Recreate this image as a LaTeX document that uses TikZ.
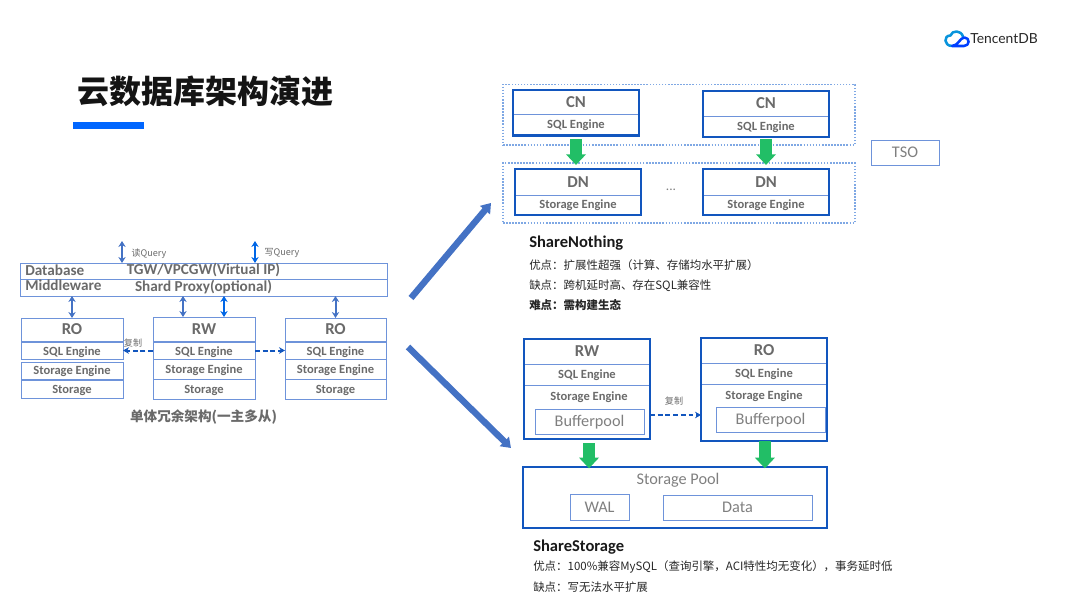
\documentclass[tikz,border=0pt]{standalone}
\usepackage{fontspec}
\setmainfont{Carlito}
\newfontfamily\cjk{Noto Sans CJK SC}
\newfontfamily\logofont{Lato}
\usetikzlibrary{arrows.meta}
\definecolor{thinb}{HTML}{6E93DA}
\definecolor{dotb}{HTML}{7FA8E4}
\definecolor{thickb}{HTML}{1256BE}
\definecolor{greytx}{HTML}{6A6A6A}
\definecolor{lighttx}{HTML}{7F7F7F}
\definecolor{bigarrow}{HTML}{4472C4}
\definecolor{greenarrow}{HTML}{22BE66}
\definecolor{brightblue}{HTML}{0066E6}
\definecolor{barblue}{HTML}{0066FF}
\newcommand{\pxbox}[7]{\node[#6,minimum width={(#4-#2)*0.75pt},minimum height={(#5-#3)*0.75pt}] (#1) at ({(#2+#4)/2},{(#3+#5)/2}) {#7};}
\tikzset{
  cell/.style={draw=thinb,line width=0.7pt,inner sep=0pt,outer sep=0pt,text=greytx,text height=6pt,text depth=0pt,font=\fontsize{9.4pt}{11pt}\selectfont\bfseries},
  lowcell/.style={cell,text height=8pt},
  headcell/.style={cell,text height=8pt,font=\fontsize{12.5pt}{14pt}\selectfont\bfseries},
  lightcell/.style={cell,text=lighttx,text height=7.8pt,font=\fontsize{12.2pt}{14pt}\selectfont},
  heavy/.style={draw=thickb,line width=1.9pt,inner sep=0pt,outer sep=0pt,text=lighttx,font=\fontsize{12.2pt}{14pt}\selectfont},
  dotbox/.style={draw=dotb,line width=0.8pt,dash pattern=on 1.2pt off 1.1pt,inner sep=0pt,outer sep=0pt},
  bandtxt/.style={inner sep=0pt,text=greytx,font=\fontsize{11.4pt}{13pt}\selectfont\bfseries},
  smalltxt/.style={inner sep=0pt,text=greytx,font=\cjk\fontsize{6.8pt}{8pt}\selectfont},
  bodytxt/.style={anchor=west,inner sep=0pt,text=black!85,font=\cjk\fontsize{8.6pt}{10pt}\selectfont},
  boldtxt/.style={bodytxt,font=\cjk\fontsize{8.6pt}{10pt}\selectfont\bfseries},
  headtxt/.style={anchor=west,inner sep=0pt,text=black!90,font=\fontsize{12.4pt}{14pt}\selectfont\bfseries},
  link/.style={draw=bigarrow,line width=1.5pt,{Stealth[length=4.5pt,width=5.5pt]}-{Stealth[length=4.5pt,width=5.5pt]}},
  linkb/.style={draw=brightblue,line width=1.6pt,{Stealth[length=4.5pt,width=5.5pt]}-{Stealth[length=4.5pt,width=5.5pt]}},
  repl/.style={draw=thickb,line width=1.5pt,dash pattern=on 3.6pt off 2.2pt,-{Stealth[length=4.5pt,width=5pt]}},
  greenflow/.style={draw=greenarrow,line width=8.5pt,-{Triangle[length=8pt,width=14.5pt]}},
  bigflow/.style={draw=bigarrow,line width=4.8pt,-{Triangle[length=7pt,width=9.5pt]}}
}
\begin{document}
\begin{tikzpicture}[x=0.75pt,y=-0.75pt]
\useasboundingbox (0,0) rectangle (1080,609);
% title
\node[inner sep=0pt,text=black!92,font=\cjk\fontsize{24pt}{28pt}\selectfont\bfseries] (title) at (205,91) {云数据库架构演进};
\fill[barblue] (73,122) rectangle (144,129);
% logo
\begin{scope}[line width=1.9pt,line cap=round,line join=round]
\draw[draw=cyan!80!blue] (952,46) .. controls (944,46) and (943,35.5) .. (950.5,35.5) .. controls (952,30) and (961,30) .. (963,36.5);
\draw[draw=blue!75!cyan] (952,46) .. controls (958,46) and (960,37.5) .. (964.5,37.5) .. controls (970,37.5) and (970,46) .. (964,46) -- (952,46);
\end{scope}
\node[anchor=west,inner sep=0pt,text=black!85,font=\logofont\fontsize{10.4pt}{12pt}\selectfont] (logotext) at (970,39) {TencentDB};
% left architecture
\pxbox{band1}{20}{263}{387}{279.5}{cell}{}
\pxbox{band2}{20}{279.5}{387}{296}{cell}{}
\node[bandtxt,anchor=west] (dbl) at (25,270) {Database};
\node[bandtxt] (tgw) at (203.5,270.5) {TGW/VPCGW(Virtual IP)};
\node[bandtxt,anchor=west] (mwl) at (25,285.5) {Middleware};
\node[bandtxt] (proxy) at (203.5,287.5) {Shard Proxy(optional)};
\pxbox{ro1h}{21}{318}{123}{341}{headcell}{RO}
\pxbox{ro1q}{21}{342}{123}{359}{lowcell}{SQL Engine}
\pxbox{ro1e}{21}{362}{123}{379}{cell}{Storage Engine}
\pxbox{ro1s}{21}{380}{123}{398}{cell}{Storage}
\pxbox{rwh}{153}{317}{255}{341}{headcell}{RW}
\pxbox{rwq}{153}{342}{255}{359}{lowcell}{SQL Engine}
\pxbox{rwe}{153}{359}{255}{379}{cell}{Storage Engine}
\pxbox{rws}{153}{379}{255}{399}{cell}{Storage}
\pxbox{ro2h}{285}{318}{386}{341}{headcell}{RO}
\pxbox{ro2q}{285}{342}{386}{359}{lowcell}{SQL Engine}
\pxbox{ro2e}{285}{359}{386}{379}{cell}{Storage Engine}
\pxbox{ro2s}{285}{379}{386}{399}{cell}{Storage}
\coordinate (readtop) at (122,241);
\coordinate (writetop) at (255,241);
\coordinate (rwl) at (183,317);
\coordinate (rwr) at (224,317);
\draw[link] (readtop) -- (readtop |- band1.north);
\draw[linkb] (writetop) -- (writetop |- band1.north);
\draw[link] (ro1h.north) -- (ro1h.north |- band2.south);
\draw[link] (rwl) -- (rwl |- band2.south);
\draw[linkb] (rwr) -- (rwr |- band2.south);
\draw[link] (ro2h.north) -- (ro2h.north |- band2.south);
\draw[repl] (rwq.west) -- (ro1q.east);
\draw[repl] (rwq.east) -- (ro2q.west);
\node[smalltxt] (readq) at (149,254) {读Query};
\node[smalltxt] (writeq) at (282,253) {写Query};
\node[smalltxt] (copy1) at (133,343) {复制};
\node[inner sep=0pt,text=greytx,font=\cjk\fontsize{10.2pt}{12pt}\selectfont\bfseries] (caption) at (203.5,417) {单体冗余架构(一主多从)};
% big arrows
\coordinate (bigs) at (411,298);
\coordinate (bige) at (491,203);
\coordinate (bigt) at (408,347);
\coordinate (bigf) at (511,448);
\draw[bigflow] (bigs) -- (bige);
\draw[bigflow] (bigt) -- (bigf);
% share nothing
\pxbox{cgroup}{503}{84.5}{855}{145}{dotbox}{}
\pxbox{dgroup}{503}{163}{855}{223}{dotbox}{}
\pxbox{cn1h}{513}{90}{639}{114}{headcell}{CN}
\pxbox{cn1q}{513}{114}{639}{135.5}{cell}{SQL Engine}
\pxbox{cn1}{513}{90}{639}{135.5}{heavy}{}
\pxbox{cn2h}{703}{91}{829}{116}{headcell}{CN}
\pxbox{cn2q}{703}{116}{829}{137}{cell}{SQL Engine}
\pxbox{cn2}{703}{91}{829}{137}{heavy}{}
\pxbox{dn1h}{515}{169}{641}{195}{headcell}{DN}
\pxbox{dn1q}{515}{195}{641}{215}{cell}{Storage Engine}
\pxbox{dn1}{515}{169}{641}{215}{heavy}{}
\pxbox{dn2h}{703}{169}{829}{195}{headcell}{DN}
\pxbox{dn2q}{703}{195}{829}{215}{cell}{Storage Engine}
\pxbox{dn2}{703}{169}{829}{215}{heavy}{}
\draw[greenflow,shorten <=2.5pt,shorten >=3pt] (cn1.south) -- (cn1.south |- dn1.north);
\draw[greenflow,shorten <=1.5pt,shorten >=3pt] (cn2.south) -- (cn2.south |- dn2.north);
\node[inner sep=0pt,text=lighttx,font=\fontsize{10pt}{12pt}\selectfont] (dots) at (671,190) {...};
\pxbox{tso}{871}{140}{939}{165}{lightcell}{TSO}
\node[headtxt] (snt) at (529,243) {ShareNothing};
\node[bodytxt] (sn1) at (529,265) {优点：扩展性超强（计算、存储均水平扩展）};
\node[bodytxt] (sn2) at (529,285.5) {缺点：跨机延时高、存在SQL兼容性};
\node[boldtxt] (sn3) at (529,305.5) {难点：需构建生态};
% share storage
\pxbox{srwh}{524}{339}{650}{364}{headcell}{RW}
\pxbox{srwq}{524}{364}{650}{385}{cell}{SQL Engine}
\node[cell,draw=none] (srwe) at (589,396.5) {Storage Engine};
\pxbox{srwb}{535}{409}{644}{434}{lightcell}{Bufferpool}
\pxbox{srw}{524}{339}{650}{439}{heavy}{}
\pxbox{sroh}{701}{338}{827}{363}{headcell}{RO}
\pxbox{sroq}{701}{363}{827}{384}{cell}{SQL Engine}
\node[cell,draw=none] (sroe) at (764,395.5) {Storage Engine};
\pxbox{srob}{716}{407}{825}{432}{lightcell}{Bufferpool}
\pxbox{sro}{701}{338}{827}{441}{heavy}{}
\pxbox{pool}{523}{467}{827}{528}{heavy}{}
\node[inner sep=0pt,text=lighttx,font=\fontsize{12.2pt}{14pt}\selectfont] (poollbl) at (678,480) {Storage Pool};
\pxbox{wal}{570}{494}{629}{520}{lightcell}{WAL}
\pxbox{data}{663}{495}{812}{520}{lightcell}{Data}
\coordinate (rly) at (676,415);
\draw[repl] (rly -| srw.east) -- (rly -| sro.west);
\node[smalltxt] (copy2) at (674,401) {复制};
\draw[greenflow,shorten <=3pt,shorten >=-1pt] ([xshift=1.5pt]srw.south) -- ([xshift=1.5pt]srw.south |- pool.north);
\draw[greenflow,shorten <=0pt,shorten >=-1pt] ([xshift=0.7pt]sro.south) -- ([xshift=0.7pt]sro.south |- pool.north);
\node[headtxt] (sst) at (533,547) {ShareStorage};
\node[bodytxt] (ss1) at (533,567) {优点：100\%兼容MySQL（查询引擎，ACI特性均无变化），事务延时低};
\node[bodytxt] (ss2) at (533,587) {缺点：写无法水平扩展};
\end{tikzpicture}
\end{document}
